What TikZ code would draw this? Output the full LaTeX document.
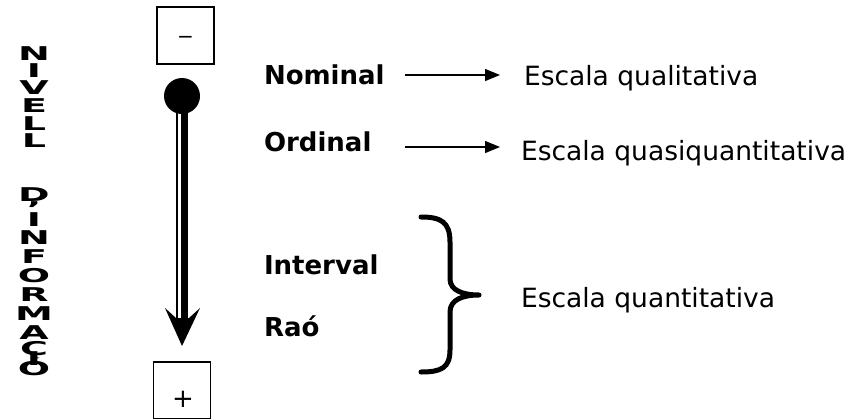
\documentclass[tikz,border=0pt]{standalone}
\usepackage{fontspec}
\setmainfont{DejaVu Sans}
\usetikzlibrary{arrows.meta}
\begin{document}
\begin{tikzpicture}[x=1pt,y=-1pt,
  every node/.style={inner sep=0pt, outer sep=0pt},
  lvl/.style={font=\fontsize{26}{30}\selectfont\bfseries, anchor=west},
  esc/.style={font=\fontsize{26.5}{30}\selectfont, anchor=west},
  signbox/.style={draw, line width=1.1pt, minimum width=57pt, minimum height=57pt},
  signtxt/.style={font=\fontsize{26}{30}\selectfont},
  conn/.style={line width=1.3pt, -{Triangle[length=15pt,width=12pt]}},
  vlet/.style={font=\fontsize{19}{19}\selectfont\bfseries, xscale=2.0}
]
\useasboundingbox (0,0) rectangle (849,418);
% sign boxes
\node[signbox] (minus) at (185.5,35.5) {};
\node[font=\fontsize{20}{24}\selectfont] (minustxt) at (185.5,40) {−};
\node[signbox] (plus) at (182,390.5) {};
\node[signtxt] (plustxt) at (183,399) {+};
% ball and shaft
\node[circle, fill=black, minimum size=36pt] (ball) at (182,96) {};
\draw[line width=1.6pt] (177,110) -- (177,318);
\draw[line width=7pt] (184.5,108) -- (184.5,318);
\fill (165,308) -- (176,318) -- (189,318) -- (200,308) -- (182,346) -- cycle;
% vertical text
\foreach \l/\y [count=\i] in {N/54,I/71,V/88,E/106,L/124,L/141,D/195,'/209,I/220,N/238,F/257,O/276,R/295,M/314,A/333,C/349,I/359,Ó/367}{
  \node[vlet] (v\i) at (34,\y) {\l};
}
% levels
\node[lvl] (nom) at (264,75) {Nominal};
\node[lvl] (ord) at (264,142) {Ordinal};
\node[lvl] (int) at (264,265) {Interval};
\node[lvl] (rao) at (264,326) {Raó};
% scales
\node[esc] (qual) at (524,78) {Escala qualitativa};
\node[esc] (quasi) at (521,153) {Escala quasiquantitativa};
\node[esc] (quant) at (521,300) {Escala quantitativa};
% arrows
\coordinate (a1s) at (405,75);
\coordinate (a1e) at (500,75);
\coordinate (a2s) at (405,147);
\coordinate (a2e) at (500,147);
\draw[conn] (a1s) -- (a1e);
\draw[conn] (a2s) -- (a2e);
% brace
\coordinate (btip) at (479,295);
\draw[line width=5pt, line cap=round, line join=round]
  (421,217) .. controls (441,217) and (450,222) .. (450,242)
  -- (450,279) .. controls (450,290) and (462,295) .. (btip)
  .. controls (462,295) and (450,300) .. (450,312)
  -- (450,350) .. controls (450,368) and (441,372) .. (421,372);
\end{tikzpicture}
\end{document}
